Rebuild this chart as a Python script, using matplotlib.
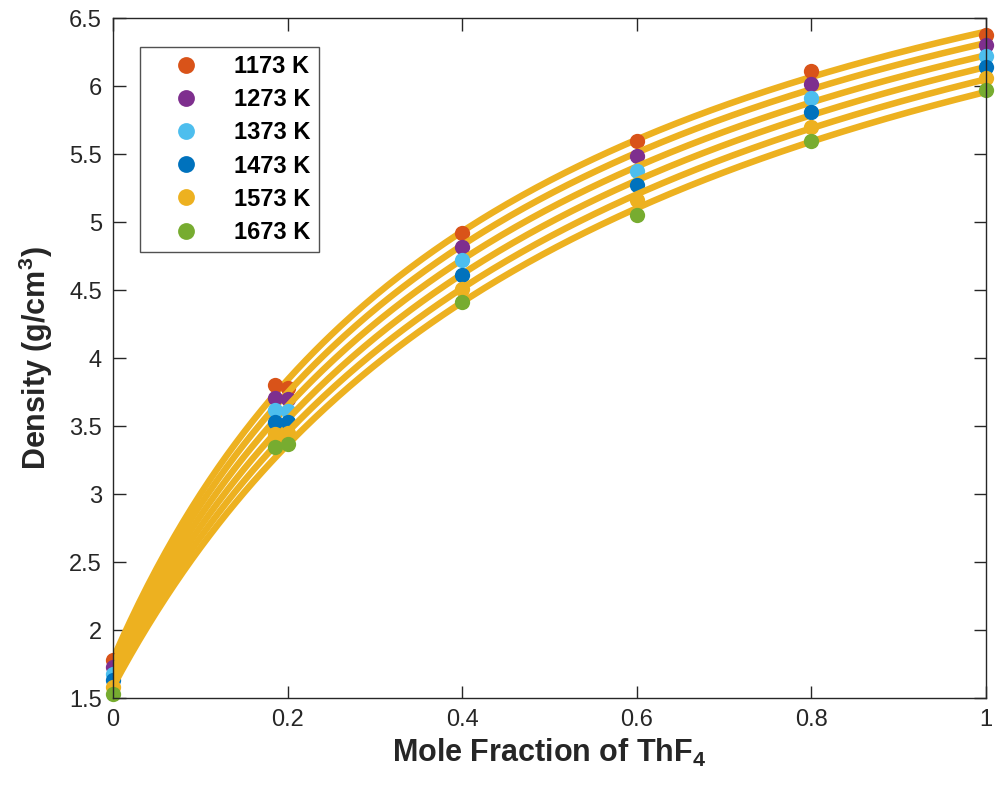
import numpy as np
import matplotlib.pyplot as plt

plt.rcParams.update({
    "font.family": ["Liberation Sans", "DejaVu Sans"],
    "mathtext.fontset": "custom",
    "mathtext.rm": "Liberation Sans",
    "mathtext.bf": "Liberation Sans:bold",
    "xtick.direction": "in",
    "ytick.direction": "in",
    "xtick.top": True,
    "ytick.right": True,
})

# LiF-ThF4 melt: measured densities (g/cm3) vs ThF4 mole fraction
x_frac = [0.0, 0.186, 0.2, 0.4, 0.6, 0.8, 1.0]
temps = ["1173 K", "1273 K", "1373 K", "1473 K", "1573 K", "1673 K"]
rho_1173 = [1.78, 3.80, 3.78, 4.92, 5.60, 6.11, 6.38]
rho_1273 = [1.73, 3.71, 3.70, 4.82, 5.49, 6.02, 6.30]
rho_1373 = [1.68, 3.62, 3.61, 4.72, 5.38, 5.91, 6.22]
rho_1473 = [1.63, 3.53, 3.53, 4.61, 5.27, 5.81, 6.14]
rho_1573 = [1.58, 3.44, 3.45, 4.51, 5.16, 5.70, 6.06]
rho_1673 = [1.53, 3.35, 3.37, 4.41, 5.05, 5.60, 5.97]
rho_all = [rho_1173, rho_1273, rho_1373, rho_1473, rho_1573, rho_1673]

colors = ["#D95319", "#7E2F8E", "#4DBEEE", "#0072BD", "#EDB120", "#77AC30"]
curve_col = "#EDB120"
axis_col = "#262626"


def fit_mixing(x, rho):
    """Least-squares fit of rho = (a + b x) / (1 + c x), the ideal-mixing form."""
    x = np.asarray(x)
    rho = np.asarray(rho)
    A = np.column_stack([np.ones_like(x), x, -x * rho])
    a, b, c = np.linalg.lstsq(A, rho, rcond=None)[0]
    return lambda t: (a + b * t) / (1 + c * t)


fig = plt.figure(figsize=(9.97, 7.95), dpi=100)
ax = fig.add_axes([0.1133, 0.122, 0.8757, 0.855])

xs = np.linspace(0, 1, 300)
handles = []
for i, (lab, rho, c) in enumerate(zip(temps, rho_all, colors)):
    curve = fit_mixing(x_frac, rho)
    # each fit is drawn over the markers of the previous temperature
    ax.plot(xs, curve(xs), color=curve_col, lw=4.7,
            solid_capstyle="butt", zorder=2 + 2 * i)
    h, = ax.plot(x_frac, rho, "o", ls="none", color=c, ms=11, mew=0,
                 zorder=3 + 2 * i, label=lab, clip_on=False)
    handles.append(h)

ax.set_xlim(0, 1)
ax.set_ylim(1.5, 6.5)
ax.set_xticks([0, 0.2, 0.4, 0.6, 0.8, 1])
ax.set_xticklabels(["0", "0.2", "0.4", "0.6", "0.8", "1"])
ax.set_yticks(np.arange(1.5, 6.51, 0.5))
ax.set_yticklabels(["1.5", "2", "2.5", "3", "3.5", "4", "4.5", "5", "5.5",
                    "6", "6.5"])
ax.tick_params(labelsize=17, length=9, width=1.0, color=axis_col,
               labelcolor=axis_col, pad=8)
for sp in ax.spines.values():
    sp.set_color(axis_col)
    sp.set_linewidth(1.0)
    sp.set_zorder(20)

ax.set_xlabel(r"Mole Fraction of ThF$_\mathbf{4}$", fontsize=22,
              fontweight="bold", color=axis_col, labelpad=4)
ax.set_ylabel(r"Density (g/cm$^\mathbf{3}$)", fontsize=22,
              fontweight="bold", color=axis_col, labelpad=10)

leg = ax.legend(handles=handles, loc="upper left",
                bbox_to_anchor=(0.031, 0.958), frameon=True, fancybox=False,
                prop={"size": 17, "weight": "bold"}, markerscale=1.1,
                handlelength=3.2, handletextpad=0.45, labelspacing=0.43,
                borderpad=0.35, borderaxespad=0)
leg.get_frame().set_edgecolor(axis_col)
leg.get_frame().set_linewidth(1.0)
leg.set_zorder(30)

fig.savefig("out.png", dpi=100)
